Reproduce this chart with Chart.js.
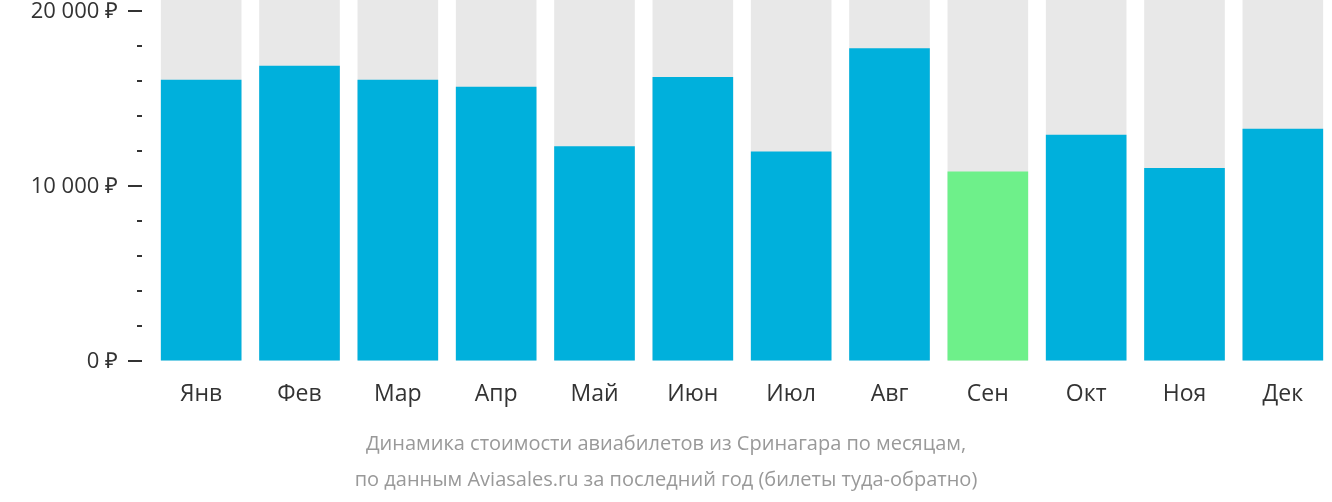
<!DOCTYPE html><html><head><meta charset="utf-8">
<script src="https://cdn.jsdelivr.net/npm/chart.js@4"></script>
<style>body{margin:0}#w{width:1332px;height:502px}</style></head><body><div id="w"><canvas id="c"></canvas></div>
<script>
const categories=["Янв","Фев","Мар","Апр","Май","Июн","Июл","Авг","Сен","Окт","Ноя","Дек"];
const prices=[16050,16850,16050,15650,12250,16200,11950,17850,10800,12900,11000,13250];
const yTicks=[0,2000,4000,6000,8000,10000,12000,14000,16000,18000,20000];
const yMin=-450,yMax=20600;
const colors=prices.map((v,i)=>i===8?"#6ef08a":"#00b0dc");
const tickPlugin={id:"tk",afterDraw(ch){const s=ch.scales.y,c=ch.ctx;c.save();c.strokeStyle="#333";c.lineWidth=2;
c.fillStyle="#333";c.font="22px 'Open Sans'";c.textAlign="right";c.textBaseline="middle";
yTicks.forEach(v=>{const y=Math.round(s.getPixelForValue(v));const major=v%10000===0;c.beginPath();c.moveTo(major?128:137,y);c.lineTo(142,y);c.stroke();
if(major)c.fillText(v===0?"0 ₽":(v/1000)+" 000 ₽",118,y+1);});c.restore();}};
new Chart(document.getElementById("c"),{type:"bar",
data:{labels:categories,datasets:[
{data:prices,backgroundColor:colors,grouped:false,barPercentage:0.82,categoryPercentage:1,order:0},
{data:categories.map(()=>yMax),backgroundColor:"#e8e8e8",grouped:false,barPercentage:0.82,categoryPercentage:1,order:1}]},
options:{responsive:true,maintainAspectRatio:false,animation:false,
layout:{padding:{left:0,right:0,top:0,bottom:4}},
plugins:{legend:{display:false},tooltip:{enabled:false},
title:{display:true,position:"bottom",text:["Динамика стоимости авиабилетов из Сринагара по месяцам,","по данным Aviasales.ru за последний год (билеты туда-обратно)"],color:"#999",font:{family:"Open Sans",size:20,weight:"normal",lineHeight:1.8},padding:{top:14,bottom:0}}},
scales:{x:{grid:{display:false},border:{display:false},ticks:{color:"#333",font:{family:"Open Sans",size:23},padding:4}},
y:{min:yMin,max:yMax,afterFit(s){s.width=152;},afterBuildTicks(s){s.ticks=yTicks.map(v=>({value:v}));},
grid:{display:false},border:{display:false},ticks:{display:false}}}},
plugins:[tickPlugin]});
</script></body></html>
